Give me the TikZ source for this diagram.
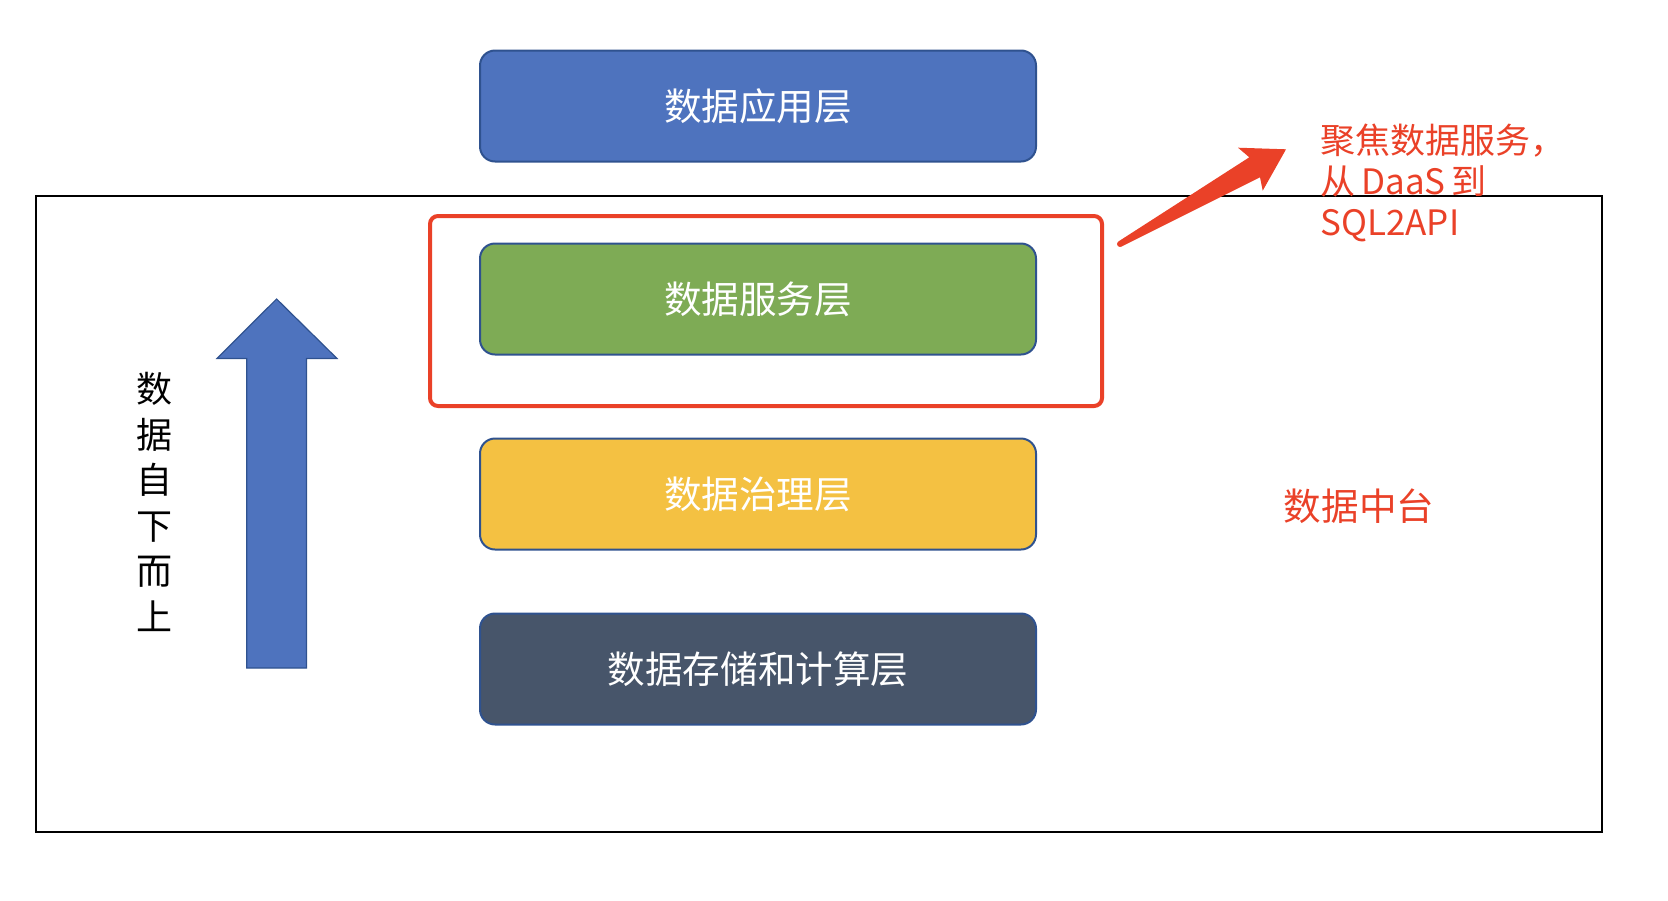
\documentclass[tikz,border=0pt]{standalone}
\usepackage{fontspec}
\setmainfont{Noto Sans CJK SC}
\definecolor{appblue}{HTML}{4E73BE}
\definecolor{edgeblue}{HTML}{2F528F}
\definecolor{svcgreen}{HTML}{7EAB55}
\definecolor{govyellow}{HTML}{F4C142}
\definecolor{stoslate}{HTML}{47556A}
\definecolor{accred}{HTML}{EA4128}
\tikzset{
  layer/.style={draw=edgeblue, line width=1pt, rounded corners=7.5pt,
    text=white, font=\fontsize{18.8}{22}\selectfont,
    minimum width=278pt, minimum height=55.5pt, inner sep=0pt},
  redtxt/.style={text=accred, font=\fontsize{17.5}{21}\selectfont, inner sep=0pt, anchor=base west}
}
\begin{document}
\begin{tikzpicture}[x=0.5pt,y=-0.5pt]
\useasboundingbox (0,0) rectangle (1668,900);
% platform frame
\draw[line width=1pt] (36,196) rectangle (1602,832);
% layers
\node[layer, fill=appblue] (app) at (758,106) {数据应用层};
\node[layer, fill=svcgreen] (svc) at (758,299) {数据服务层};
\node[layer, fill=govyellow] (gov) at (758,494) {数据治理层};
\node[layer, fill=stoslate] (sto) at (758,669) {数据存储和计算层};
% red highlight box
\draw[accred, line width=2pt, rounded corners=4pt] (430,216) rectangle (1102,406);
% red arrow
\fill[accred, line join=round] (1118.5,241.4) -- (1249.3,157.3) -- (1238,147.7) -- (1286,149.3)
  -- (1262.7,190.7) -- (1260,177.3) -- (1121.5,246.6) -- cycle;
\fill[accred] (1120,244) circle (1.5pt);
% annotation
\node[redtxt] (ann1) at (1320,153) {聚焦数据服务，};
\node[redtxt] (ann2) at (1320,194) {从\hspace{3pt}DaaS\hspace{3pt}到};
\node[redtxt] (ann3) at (1320,235) {SQL2API};
% platform label
\node[text=accred, font=\fontsize{18.8}{22}\selectfont, inner sep=0pt] (plat) at (1359,506) {数据中台};
% blue up arrow
\filldraw[fill=appblue, draw=edgeblue, line width=0.6pt] (246.8,668) -- (246.8,358.5) -- (217,358.5)
  -- (276.6,299) -- (337,358.5) -- (306.4,358.5) -- (306.4,668) -- cycle;
% vertical text
\node[font=\fontsize{18}{22.8}\selectfont, align=center, inner sep=0pt] (vt) at (154,502) {数\\据\\自\\下\\而\\上};
\end{tikzpicture}
\end{document}
